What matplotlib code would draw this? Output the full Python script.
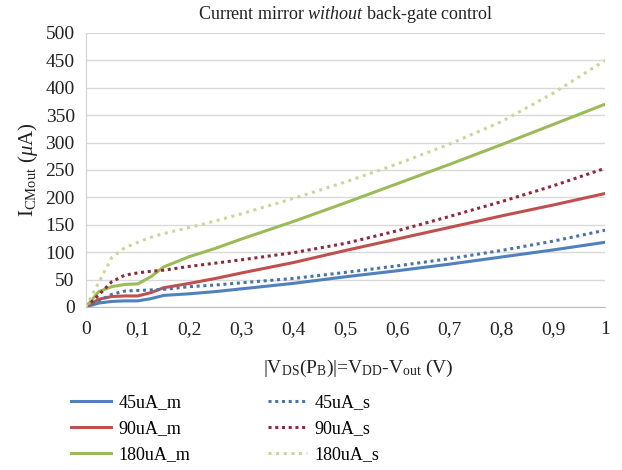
import matplotlib
matplotlib.use("Agg")
import matplotlib.pyplot as plt

# ---- data ----
x = [0, 0.025, 0.05, 0.075, 0.1, 0.125, 0.15, 0.2, 0.25, 0.3, 0.4, 0.5, 0.6, 0.7, 0.8, 0.9, 1.0]
i45_m = [0, 7, 10, 11, 11, 15, 21, 24, 28, 33, 43, 55, 66, 78, 91, 104, 118]
i90_m = [0, 14, 19, 20, 20, 26, 35, 43, 52, 62, 81, 103, 124, 145, 166, 186, 207]
i180_m = [0, 28, 37, 41, 42, 55, 73, 92, 107, 124, 156, 190, 225, 260, 296, 333, 370]
i45_s = [0, 11, 23, 29, 30, 31, 32, 37, 40, 44, 52, 63, 75, 88, 103, 120, 140]
i90_s = [0, 22, 46, 58, 62, 65, 67, 74, 80, 86, 99, 116, 139, 165, 192, 221, 253]
i180_s = [0, 45, 90, 108, 118, 127, 134, 145, 157, 170, 198, 228, 261, 297, 338, 390, 450]

xticks = [0, 0.1, 0.2, 0.3, 0.4, 0.5, 0.6, 0.7, 0.8, 0.9, 1]
xtick_labels = ["0", "0,1", "0,2", "0,3", "0,4", "0,5", "0,6", "0,7", "0,8", "0,9", "1"]
yticks = [0, 50, 100, 150, 200, 250, 300, 350, 400, 450, 500]

plt.rcParams['font.family'] = ['Liberation Serif', 'DejaVu Serif']
plt.rcParams['mathtext.fontset'] = 'custom'
plt.rcParams['mathtext.rm'] = 'Liberation Serif'
plt.rcParams['mathtext.it'] = 'Liberation Serif:italic'

fig = plt.figure(figsize=(6.22, 4.70), dpi=100)
ax = fig.add_axes([0.138, 0.347, 0.835, 0.583])

blue = '#4F81BD'
red = '#C0504D'
green = '#9BBB59'

ax.plot(x, i45_m, color=blue, lw=2.2, label='45uA_m')
ax.plot(x, i90_m, color=red, lw=2.2, label='90uA_m')
ax.plot(x, i180_m, color=green, lw=2.2, label='180uA_m')
ax.plot(x, i45_s, color='#4a74a8', lw=2.2, ls=(0, (1, 1.2)), label='45uA_s')
ax.plot(x, i90_s, color='#8e2a3a', lw=2.2, ls=(0, (1, 1.2)), label='90uA_s')
ax.plot(x, i180_s, color='#c8d89a', lw=2.2, ls=(0, (1, 1.5)), label='180uA_s')

ax.set_xlim(0, 1)
ax.set_ylim(0, 500)
ax.set_xticks(xticks)
ax.set_xticklabels(xtick_labels)
ax.set_yticks(yticks)
ax.tick_params(axis='both', labelsize=14, length=0, colors='#222222')
ax.tick_params(axis='x', pad=10)
ax.tick_params(axis='y', pad=8)
ax.grid(axis='y', color='#d9d9d9', lw=1)
ax.set_axisbelow(True)
for s in ['top', 'right']:
    ax.spines[s].set_visible(False)
ax.spines['left'].set_color('#d0d0d0')
ax.spines['bottom'].set_color('#bfbfbf')

ax.set_title(r'Current mirror $\it{without}$ back-gate control', fontsize=13, pad=10, color='#222222')
ax.set_ylabel(r'I$_{\rm CMout}$ ($\mu$A)', fontsize=15, color='#222222', labelpad=4)
ax.set_xlabel(r'|V$_{\rm DS}$(P$_{\rm B}$)|=V$_{\rm DD}$-V$_{\rm out}$ (V)', fontsize=14, color='#222222')
ax.xaxis.set_label_coords(0.525, -0.185)

fig.legend(loc='upper left', bbox_to_anchor=(0.100, 0.18), ncol=2, frameon=False,
           fontsize=13, handlelength=2.2, columnspacing=4.3, labelspacing=0.5,
           handletextpad=0.4, borderpad=0)

fig.savefig('out.png', dpi=100)
